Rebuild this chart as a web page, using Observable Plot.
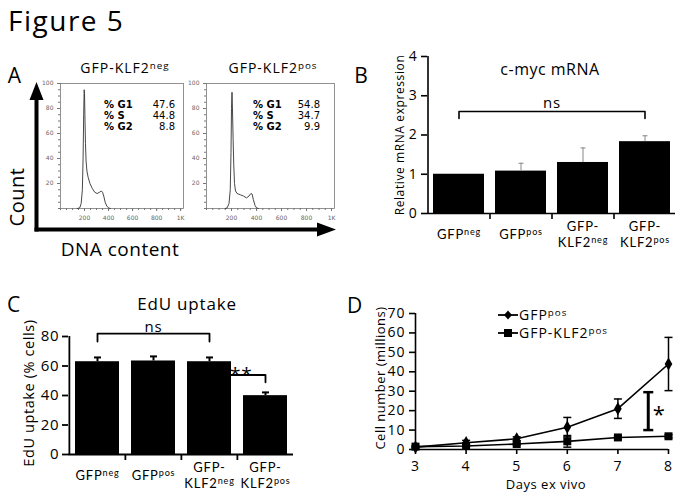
<!DOCTYPE html>
<html><head><meta charset="utf-8">
<script src="https://cdn.jsdelivr.net/npm/d3@7"></script>
<script src="https://cdn.jsdelivr.net/npm/@observablehq/plot@0.6"></script>
<style>
html,body{margin:0;padding:0;background:#fff;}
#fig{position:relative;width:683px;height:498px;overflow:hidden;background:#fff;font-family:"Open Sans",sans-serif;color:#000;}
.abs{position:absolute;white-space:nowrap;line-height:1;}
.c{transform:translate(-50%,-50%);}
.r{transform:translate(-50%,-50%) rotate(-90deg);}
.l{transform:translate(0,-50%);}
.rt{transform:translate(-100%,-50%);}
.sup{font-size:0.7em;position:relative;top:-0.45em;}
svg.pp{position:absolute;overflow:visible;}
</style></head><body><div id="fig"></div>
<script>
// ---------- data ----------
const categories = ["GFP^neg", "GFP^pos", "GFP-\nKLF2^neg", "GFP-\nKLF2^pos"];
const mrnaMean = [1.0, 1.08, 1.3, 1.83];
const mrnaErr = [0, 0.2, 0.37, 0.15];
const eduMean = [62.9, 63.4, 62.9, 39.9];
const eduErr = [2.9, 3.1, 2.9, 2.2];
const days = [3, 4, 5, 6, 7, 8];
const gfpPosCells = [1.2, 3.5, 5.5, 11.5, 21, 44];
const gfpPosErr = [0.5, 1.2, 1, 5, 5, 13.7];
const klf2PosCells = [1.5, 1.8, 2.8, 4.2, 6.2, 6.8];
const klf2PosErr = [0.3, 0.5, 0.5, 3, 0.8, 0.8];
const negDNA = [140,160,172,182,188,193,197,200,204,208,213,220,230,245,265,285,305,325,340,350,360,372,385,400,415];
const negCount = [0,0.5,4,15,40,75,95,92,70,52,38,30,25,20,16,13,12,13,14,13,10,5,2,0.5,0];
const posDNA = [150,165,180,190,196,200,204,208,213,218,224,232,245,270,295,320,340,355,365,375,388,400,415];
const posCount = [0,0.5,4,15,45,80,93,78,55,35,20,14,12,11,10,8.5,10,12,11.5,7,2.5,0.5,0];
const statLabels = ["% G1", "% S", "% G2"];
const statNeg = ["47.6", "44.8", "8.8"];
const statPos = ["54.8", "34.7", "9.9"];
const histTicksX = [200, 400, 600, 800, 1000];
const histTickLabels = ["200", "400", "600", "800", "1K"];
const histTicksY = [20, 40, 60, 80, 100];
const mrnaTicks = [0, 1, 2, 3, 4];
const eduTicks = [0, 20, 40, 60, 80];
const cellTicks = [0, 10, 20, 30, 40, 50, 60, 70];
// significance annotations
const nsB = {from: categories[0], to: categories[3], y: 2.6, foot: 2.42, label: "ns"};
const nsC = {from: categories[0], to: categories[2], y: 82, foot: 76.6, label: "ns"};
const starsC = {from: categories[2], to: categories[3], y: 53.9, foot: 48.9, label: "**"};
const starD = {day: 7.6, lo: 10, hi: 29.5, label: "*"};

const fig = document.getElementById("fig");
const SVGNS = "http://www.w3.org/2000/svg";
const intFmt = d3.format("d");

function supHTML(s) {
  const i = s.indexOf("^");
  return i < 0 ? s : s.slice(0, i) + '<span class="sup">' + s.slice(i + 1) + "</span>";
}
function label(html, x, y, cls, style) {
  const d = document.createElement("div");
  d.className = "abs " + cls;
  d.style.left = x + "px"; d.style.top = y + "px";
  Object.assign(d.style, style || {});
  d.innerHTML = html;
  fig.appendChild(d);
  return d;
}
function supTspan(txt) {
  const sp = document.createElementNS(SVGNS, "tspan");
  sp.setAttribute("baseline-shift", "4px");
  sp.setAttribute("font-size", "0.7em");
  sp.textContent = txt;
  return sp;
}
function supify(svg) {
  svg.querySelectorAll("text").forEach(t => {
    const spans = [...t.querySelectorAll("tspan")];
    if (spans.length) {
      spans.forEach(el => {
        const s = el.textContent; const i = s.indexOf("^");
        if (i < 0) return;
        el.textContent = s.slice(0, i);
        el.after(supTspan(s.slice(i + 1)));
      });
    } else {
      const s = t.textContent; const i = s.indexOf("^");
      if (i < 0) return;
      t.textContent = "";
      const base = document.createElementNS(SVGNS, "tspan");
      base.textContent = s.slice(0, i);
      t.appendChild(base);
      t.appendChild(supTspan(s.slice(i + 1)));
    }
  });
}
function place(svg, left, top) {
  svg.classList.add("pp");
  svg.style.left = left + "px"; svg.style.top = top + "px";
  supify(svg);
  fig.appendChild(svg);
}
const capSymbol = {draw(ctx, size) { const r = Math.sqrt(size / Math.PI); ctx.moveTo(-r, 0); ctx.lineTo(r, 0); }};

// ---------- Panel A : arrows ----------
const arrows = document.createElementNS(SVGNS, "svg");
arrows.setAttribute("width", 340); arrows.setAttribute("height", 290);
arrows.style.cssText = "position:absolute;left:0;top:0;";
arrows.innerHTML = `
 <line x1="36.5" y1="231.5" x2="36.5" y2="98" stroke="#000" stroke-width="4"/>
 <polygon points="36.5,82 29.5,100 43.5,100" fill="#000"/>
 <line x1="34.5" y1="229.5" x2="320" y2="229.5" stroke="#000" stroke-width="4"/>
 <polygon points="336,229.5 317,222.5 317,236.5" fill="#000"/>`;
fig.appendChild(arrows);

function hist(xs, ys, frameW) {
  const data = xs.map((x, i) => ({x, y: ys[i]}));
  return Plot.plot({
    width: 30 + frameW + 7, height: 150,
    marginLeft: 30, marginRight: 7, marginTop: 8, marginBottom: 17,
    x: {domain: [0, 1024], label: null},
    y: {domain: [0, 100], label: null},
    style: {fontFamily: "DejaVu Sans", fontSize: "6px", color: "#555", background: "transparent"},
    marks: [
      Plot.frame({stroke: "#777", strokeWidth: 0.8}),
      Plot.axisX({ticks: d3.range(0, 1001, 50), tickSize: 2, fill: "none", stroke: "#777"}),
      Plot.axisX({ticks: histTicksX, tickSize: 3, tickPadding: 4, stroke: "#777", fill: "#666",
        tickFormat: d => histTickLabels[histTicksX.indexOf(d)]}),
      Plot.axisY({ticks: d3.range(0, 101, 5), tickSize: 2, fill: "none", stroke: "#777"}),
      Plot.axisY({ticks: histTicksY, tickSize: 3, tickPadding: 4, stroke: "#777", fill: "#666", tickFormat: intFmt}),
      Plot.line(data, {x: "x", y: "y", stroke: "#333", strokeWidth: 0.9})
    ]
  });
}
place(hist(negDNA, negCount, 123), 30, 75);
place(hist(posDNA, posCount, 128), 176, 75);

function stats(vals, L, R) {
  const rows = [105, 116, 127];
  statLabels.forEach((s, i) => {
    label(s, L, rows[i], "l", {fontFamily: "DejaVu Sans", fontWeight: "bold", fontSize: "10px"});
    label(vals[i], R, rows[i], "rt", {fontFamily: "DejaVu Sans", fontSize: "10px"});
  });
}
stats(statNeg, 104, 175);
stats(statPos, 253, 320);

label("Figure 5", 8, 20, "l", {fontSize: "28px", letterSpacing: "1.5px"});
label("A", 14.5, 75, "c", {fontSize: "21px"});
label(supHTML("GFP-KLF2^neg"), 125, 68, "c", {fontSize: "14px", letterSpacing: "1px"});
label(supHTML("GFP-KLF2^pos"), 273, 68, "c", {fontSize: "14px", letterSpacing: "1px"});
label("Count", 17, 197, "r", {fontSize: "20px", letterSpacing: "0.5px"});
label("DNA content", 120, 249, "c", {fontSize: "19px", letterSpacing: "0.5px"});

const catAxis = {tickSize: 0, tickPadding: 20, lineAnchor: "middle", lineHeight: 1.25, fontSize: 13, fontFamily: "Lato"};

// ---------- Panel B ----------
{
  const W = 343, H = 250, mL = 87, mR = 8, mT = 16, mB = 77;
  const step = (W - mL - mR) / categories.length;
  const data = categories.map((c, i) => ({c, v: mrnaMean[i], e: mrnaErr[i]}));
  const withErr = data.filter(d => d.e > 0);
  const bracket = [{x: nsB.from, y: nsB.foot}, {x: nsB.from, y: nsB.y}, {x: nsB.to, y: nsB.y}, {x: nsB.to, y: nsB.foot}];
  const svg = Plot.plot({
    width: W, height: H, marginLeft: mL, marginRight: mR, marginTop: mT, marginBottom: mB,
    x: {domain: categories, paddingInner: 0.18, paddingOuter: 0.09, label: null},
    y: {domain: [0, 4], label: null},
    style: {fontFamily: "Open Sans", fontSize: "12.5px", letterSpacing: "0.8px", background: "transparent"},
    marks: [
      Plot.line(bracket, {x: "x", y: "y", stroke: "#000", strokeWidth: 1.6}),
      Plot.text([nsB], {x: () => categories[2], y: "y", dx: -step / 2, dy: -8, text: "label", lineAnchor: "middle", fontSize: 15, letterSpacing: 0}),
      Plot.barY(data, {x: "c", y: "v", fill: "#000"}),
      Plot.ruleX(withErr, {x: "c", y1: "v", y2: d => d.v + d.e, stroke: "#888", strokeWidth: 1}),
      Plot.dot(withErr, {x: "c", y: d => d.v + d.e, symbol: capSymbol, r: 2.5, fill: "none", stroke: "#888", strokeWidth: 1}),
      Plot.ruleY([0], {stroke: "#000", strokeWidth: 1.6}),
      Plot.ruleX([categories[0]], {dx: -step / 2, stroke: "#000", strokeWidth: 1.6}),
      Plot.axisY({ticks: mrnaTicks, tickSize: 6, tickPadding: 4, fontSize: 14, strokeWidth: 1.6, tickFormat: intFmt}),
      Plot.axisX({ticks: categories.slice(1), tickSize: 6, dx: -step / 2, fill: "none", strokeWidth: 1.6}),
      Plot.axisX(catAxis)
    ]
  });
  place(svg, 340, 40);
  label("B", 361, 75, "c", {fontSize: "21px"});
  label("c-myc mRNA", 550, 69, "c", {fontSize: "16px", letterSpacing: "0.5px"});
  label("Relative mRNA expression", 400, 135, "r", {fontSize: "12px", letterSpacing: "0.6px"});
}

// ---------- Panel C ----------
{
  const W = 340, H = 208, mL = 68, mR = 47, mT = 46, mB = 44;
  const step = (W - mL - mR) / categories.length;
  const data = categories.map((c, i) => ({c, v: eduMean[i], e: eduErr[i]}));
  const b1 = [{x: nsC.from, y: nsC.foot}, {x: nsC.from, y: nsC.y}, {x: nsC.to, y: nsC.y}, {x: nsC.to, y: nsC.foot}];
  const b2 = [{x: starsC.from, y: starsC.y}, {x: starsC.to, y: starsC.y}, {x: starsC.to, y: starsC.foot}];
  const svg = Plot.plot({
    width: W, height: H, marginLeft: mL, marginRight: mR, marginTop: mT, marginBottom: mB,
    x: {domain: categories, paddingInner: 0.22, paddingOuter: 0.11, label: null},
    y: {domain: [0, 80], label: null},
    style: {fontFamily: "Open Sans", fontSize: "12.5px", letterSpacing: "0.8px", background: "transparent"},
    marks: [
      Plot.line(b1, {x: "x", y: "y", stroke: "#000", strokeWidth: 1.8}),
      Plot.line(b2, {x: "x", y: "y", stroke: "#000", strokeWidth: 1.8}),
      Plot.text([nsC], {x: () => categories[1], y: "y", dy: -6, text: "label", lineAnchor: "middle", fontSize: 15, letterSpacing: 0}),
      Plot.text([starsC], {x: "to", y: "y", dx: -step / 2 + 4, text: "label", lineAnchor: "middle", fontSize: 19, letterSpacing: 0}),
      Plot.barY(data, {x: "c", y: "v", fill: "#000"}),
      Plot.ruleX(data, {x: "c", y1: "v", y2: d => d.v + d.e, stroke: "#000", strokeWidth: 2}),
      Plot.dot(data, {x: "c", y: d => d.v + d.e, symbol: capSymbol, r: 3.5, fill: "none", stroke: "#000", strokeWidth: 2}),
      Plot.ruleY([0], {stroke: "#000", strokeWidth: 1.8}),
      Plot.ruleX([categories[0]], {dx: -step / 2, stroke: "#000", strokeWidth: 1.8}),
      Plot.axisY({ticks: eduTicks, tickSize: 6, tickPadding: 3, fontSize: 15, strokeWidth: 1.8, tickFormat: intFmt}),
      Plot.axisX({ticks: categories.slice(1), tickSize: 6, dx: -step / 2, fill: "none", strokeWidth: 1.8}),
      Plot.axisX(catAxis)
    ]
  });
  place(svg, 0, 290);
  label("C", 13.5, 304, "c", {fontSize: "21px"});
  label("EdU uptake", 187, 303, "c", {fontSize: "17px", letterSpacing: "0.8px"});
  label("EdU uptake (% cells)", 29, 393, "r", {fontSize: "14.5px", letterSpacing: "0.6px"});
}

// ---------- Panel D ----------
{
  const W = 343, H = 208, mL = 75, mR = 15, mT = 23, mB = 49;
  const s1 = days.map((d, i) => ({d, v: gfpPosCells[i], e: gfpPosErr[i]}));
  const s2 = days.map((d, i) => ({d, v: klf2PosCells[i], e: klf2PosErr[i]}));
  const errMarks = s => [
    Plot.ruleX(s, {x: "d", y1: d => d.v - d.e, y2: d => d.v + d.e, stroke: "#000", strokeWidth: 1.5}),
    Plot.dot(s, {x: "d", y: d => d.v + d.e, symbol: capSymbol, r: 4, fill: "none", stroke: "#000", strokeWidth: 1.5}),
    Plot.dot(s, {x: "d", y: d => d.v - d.e, symbol: capSymbol, r: 4, fill: "none", stroke: "#000", strokeWidth: 1.5})
  ];
  const svg = Plot.plot({
    width: W, height: H, marginLeft: mL, marginRight: mR, marginTop: mT, marginBottom: mB,
    x: {domain: [3, 8], label: null},
    y: {domain: [0, 70], label: null},
    style: {fontFamily: "Open Sans", fontSize: "14px", letterSpacing: "1px", background: "transparent"},
    marks: [
      ...errMarks(s1), ...errMarks(s2),
      Plot.line(s1, {x: "d", y: "v", stroke: "#000", strokeWidth: 1.6}),
      Plot.line(s2, {x: "d", y: "v", stroke: "#000", strokeWidth: 1.6}),
      Plot.dot(s1, {x: "d", y: "v", symbol: "diamond", r: 4, fill: "#000", stroke: "none"}),
      Plot.dot(s2, {x: "d", y: "v", symbol: "square", r: 4.5, fill: "#000", stroke: "none"}),
      Plot.ruleX([starD], {x: "day", y1: "lo", y2: "hi", stroke: "#000", strokeWidth: 3}),
      Plot.dot([starD], {x: "day", y: "lo", symbol: capSymbol, r: 5, fill: "none", stroke: "#000", strokeWidth: 2.5}),
      Plot.dot([starD], {x: "day", y: "hi", symbol: capSymbol, r: 5, fill: "none", stroke: "#000", strokeWidth: 2.5}),
      Plot.text([starD], {x: "day", y: d => (d.lo + d.hi) / 2, dx: 11, dy: 4, text: "label", fontSize: 22, lineAnchor: "middle", letterSpacing: 0}),
      Plot.ruleY([0], {stroke: "#000", strokeWidth: 1.6}),
      Plot.ruleX([3], {stroke: "#000", strokeWidth: 1.6}),
      Plot.axisY({ticks: cellTicks, tickSize: 6, tickPadding: 4, fontSize: 14, strokeWidth: 1.6, tickFormat: intFmt}),
      Plot.axisX({ticks: days, tickSize: 5, tickPadding: 7, fontSize: 14, strokeWidth: 1.6, tickFormat: intFmt})
    ]
  });
  place(svg, 340, 290);
  label("D", 354.5, 305, "c", {fontSize: "21px"});
  label("Cell number (millions)", 380, 378, "r", {fontSize: "13px", letterSpacing: "0.5px"});
  label("Days ex vivo", 546, 484, "c", {fontSize: "13px", letterSpacing: "0.5px"});
  // legend
  const leg = (y, sym, txt) => {
    const s = document.createElementNS(SVGNS, "svg");
    s.setAttribute("width", 22); s.setAttribute("height", 12);
    s.style.cssText = `position:absolute;left:497px;top:${y - 6}px;`;
    s.innerHTML = `<line x1="1" y1="6" x2="21" y2="6" stroke="#000" stroke-width="1.8"/>` + sym;
    fig.appendChild(s);
    label(supHTML(txt), 519, y, "l", {fontSize: "14px", letterSpacing: "1px"});
  };
  leg(315, `<polygon points="11,1.5 15,6 11,10.5 7,6" fill="#000"/>`, "GFP^pos");
  leg(333, `<rect x="7" y="2" width="8" height="8" fill="#000"/>`, "GFP-KLF2^pos");
}
</script></body></html>
